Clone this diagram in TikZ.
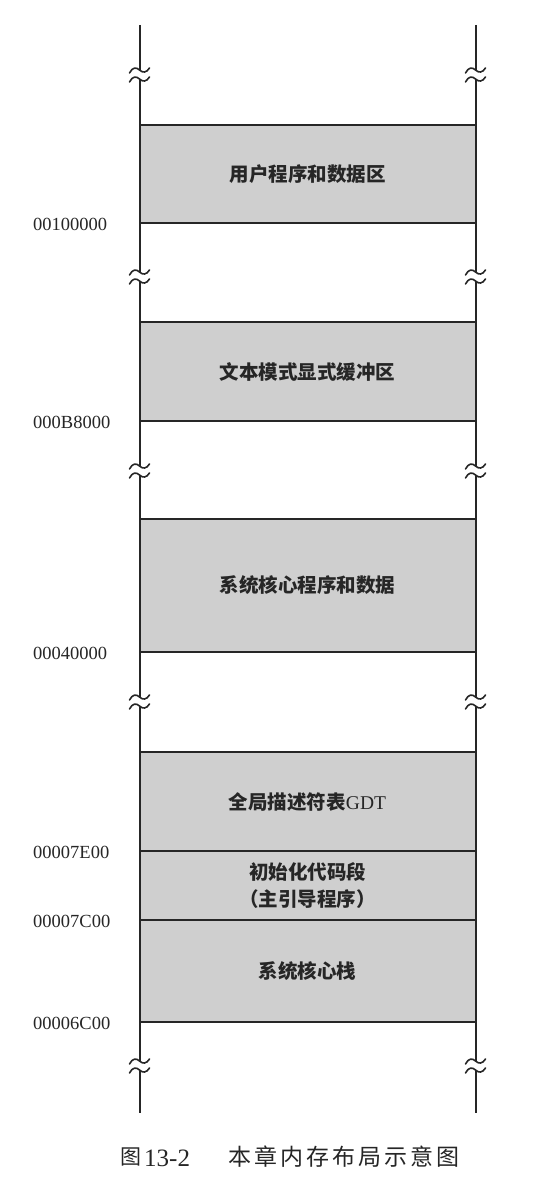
\documentclass[tikz,border=0pt]{standalone}
\usepackage{fontspec}
\setmainfont{Liberation Serif}
\newfontfamily\cjk{Noto Sans CJK SC}
\definecolor{ink}{HTML}{262626}
\definecolor{shade}{HTML}{CFCFCF}
\begin{document}
\begin{tikzpicture}[x=1pt,y=-1pt,
  edge/.style={draw=ink,line width=2pt},
  region/.style={draw=ink,fill=shade,line width=2pt,minimum width=336pt,inner sep=0pt},
  lbl/.style={font=\cjk\bfseries\fontsize{19.5}{27}\selectfont,text=ink,align=center},
  addr/.style={font=\fontsize{18.5}{20}\selectfont,text=ink,anchor=west,inner sep=0pt},
  captext/.style={font=\fontsize{25}{26}\selectfont,text=ink,inner sep=0pt},
  brk/.pic={
    \draw[draw=ink,line width=1.6pt,line cap=round]
      (-10,3) .. controls (-7,-3) and (-3,-3) .. (0,0)
              .. controls (3,3) and (7,3) .. (10,-2);
    \draw[draw=ink,line width=1.6pt,line cap=round]
      (-10,12) .. controls (-7,6) and (-3,6) .. (0,9)
              .. controls (3,12) and (7,12) .. (10,7);
  }]
\useasboundingbox (0,0) rectangle (549,1180);

% vertical boundaries of the address space, broken at each gap
\foreach \x/\s in {139.5/L,475.5/R}{
  \coordinate (\s0) at (\x,25);
  \coordinate (\s6) at (\x,1113);
  \foreach \b [count=\i] in {70,272,466,697,1061}{
    \coordinate (\s\i a) at (\x,\b);
    \coordinate (\s\i b) at (\x,\b+9);
    \pic at (\s\i a) {brk};
  }
  \draw[edge] (\s0) -- (\s1a);
  \draw[edge] (\s1b) -- (\s2a);
  \draw[edge] (\s2b) -- (\s3a);
  \draw[edge] (\s3b) -- (\s4a);
  \draw[edge] (\s4b) -- (\s5a);
  \draw[edge] (\s5b) -- (\s6);
}

% memory regions
\node[region,minimum height=98pt] (user) at (307.5,174) {};
\node[lbl] (userl) at (user.center) {用户程序和数据区};

\node[region,minimum height=99pt] (text) at (307.5,371.5) {};
\node[lbl] (textl) at (text.center) {文本模式显式缓冲区};

\node[region,minimum height=133pt] (kern) at (307.5,585.5) {};
\node[lbl] (kernl) at (kern.center) {系统核心程序和数据};

\node[region,minimum height=99pt] (gdt) at (307.5,801.5) {};
\node[lbl] (gdtl) at (gdt.center) {全局描述符表{\rmfamily\mdseries GDT}};

\node[region,minimum height=69pt] (init) at (307.5,885.5) {};
\node[lbl] (initl) at (init.center) {初始化代码段\\（主引导程序）};

\node[region,minimum height=102pt] (stack) at (307.5,971) {};
\node[lbl] (stackl) at (stack.center) {系统核心栈};

% boundary addresses
\coordinate (col) at (33,0);
\node[addr] (a1) at (user.south -| col)  {00100000};
\node[addr] (a2) at (text.south -| col)  {000B8000};
\node[addr] (a3) at (kern.south -| col)  {00040000};
\node[addr] (a4) at (gdt.south -| col)   {00007E00};
\node[addr] (a5) at (init.south -| col)  {00007C00};
\node[addr] (a6) at (stack.south -| col) {00006C00};

% caption
\node[captext,font=\cjk\fontsize{21}{26}\selectfont] (fig) at (131,1157) {图};
\node[captext,anchor=west] (num) at (144,1158) {13-2};
\node[captext,anchor=west,font=\cjk\fontsize{23}{26}\selectfont] (title) at (228,1157)
  {本\kern3pt 章\kern3pt 内\kern3pt 存\kern3pt 布\kern3pt 局\kern3pt 示\kern3pt 意\kern3pt 图};
\end{tikzpicture}
\end{document}
